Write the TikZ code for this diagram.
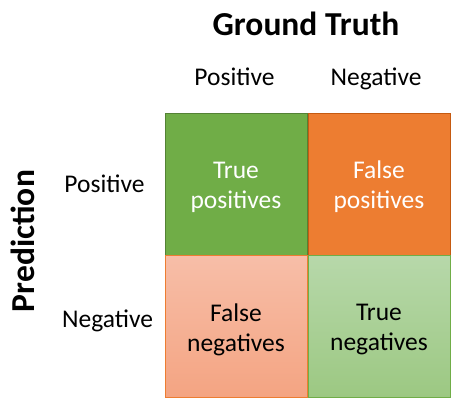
\documentclass[tikz,border=0pt]{standalone}
\usepackage{fontspec}
\setmainfont{Carlito}
\begin{document}
\begin{tikzpicture}[x=1pt,y=-1pt,
  cell/.style={minimum width=142pt,minimum height=142pt,inner sep=0pt,line width=0.9pt},
  ctext/.style={inner sep=0pt,align=center,font=\fontsize{25.5}{30}\selectfont},
  lbl/.style={font=\fontsize{25.5}{30}\selectfont,inner sep=0pt,anchor=base},
  ttl/.style={font=\fontsize{33.5}{38}\selectfont\bfseries,inner sep=0pt}]
\definecolor{gd}{HTML}{70AD47}
\definecolor{gdb}{HTML}{548235}
\definecolor{og}{HTML}{ED7D31}
\definecolor{ogb}{HTML}{C55A11}
\definecolor{salT}{RGB}{247,190,168}
\definecolor{salB}{RGB}{244,164,130}
\definecolor{lgT}{RGB}{183,216,170}
\definecolor{lgB}{RGB}{156,200,130}
\useasboundingbox (0,0) rectangle (460,408);
\node[cell,fill=gd,draw=gdb] (tp) at (236,184) {};
\node[cell,fill=og,draw=ogb] (fp) at (379,184) {};
\node[cell,top color=salT,bottom color=salB,draw=og] (fn) at (236,326.5) {};
\node[cell,top color=lgT,bottom color=lgB,draw=gd] (tn) at (379,326.5) {};
\node[ctext,text=white] (tpt) at ([yshift=-3pt]tp.center) {True\\positives};
\node[ctext,text=white] (fpt) at ([yshift=-3pt]fp.center) {False\\positives};
\node[ctext,text=black] (fnt) at ([yshift=-3pt]fn.center) {False\\negatives};
\node[ctext,text=black] (tnt) at ([yshift=-3pt]tn.center) {True\\negatives};
\node[ttl] (gt) at (306,24) {Ground Truth};
\node[lbl] (cp) at (234.5,85) {Positive};
\node[lbl] (cn) at (376,85) {Negative};
\node[lbl] (rp) at (104.5,192) {Positive};
\node[lbl] (rn) at (107.5,327) {Negative};
\node[ttl,rotate=90] (pr) at (23,241) {Prediction};
\end{tikzpicture}
\end{document}
